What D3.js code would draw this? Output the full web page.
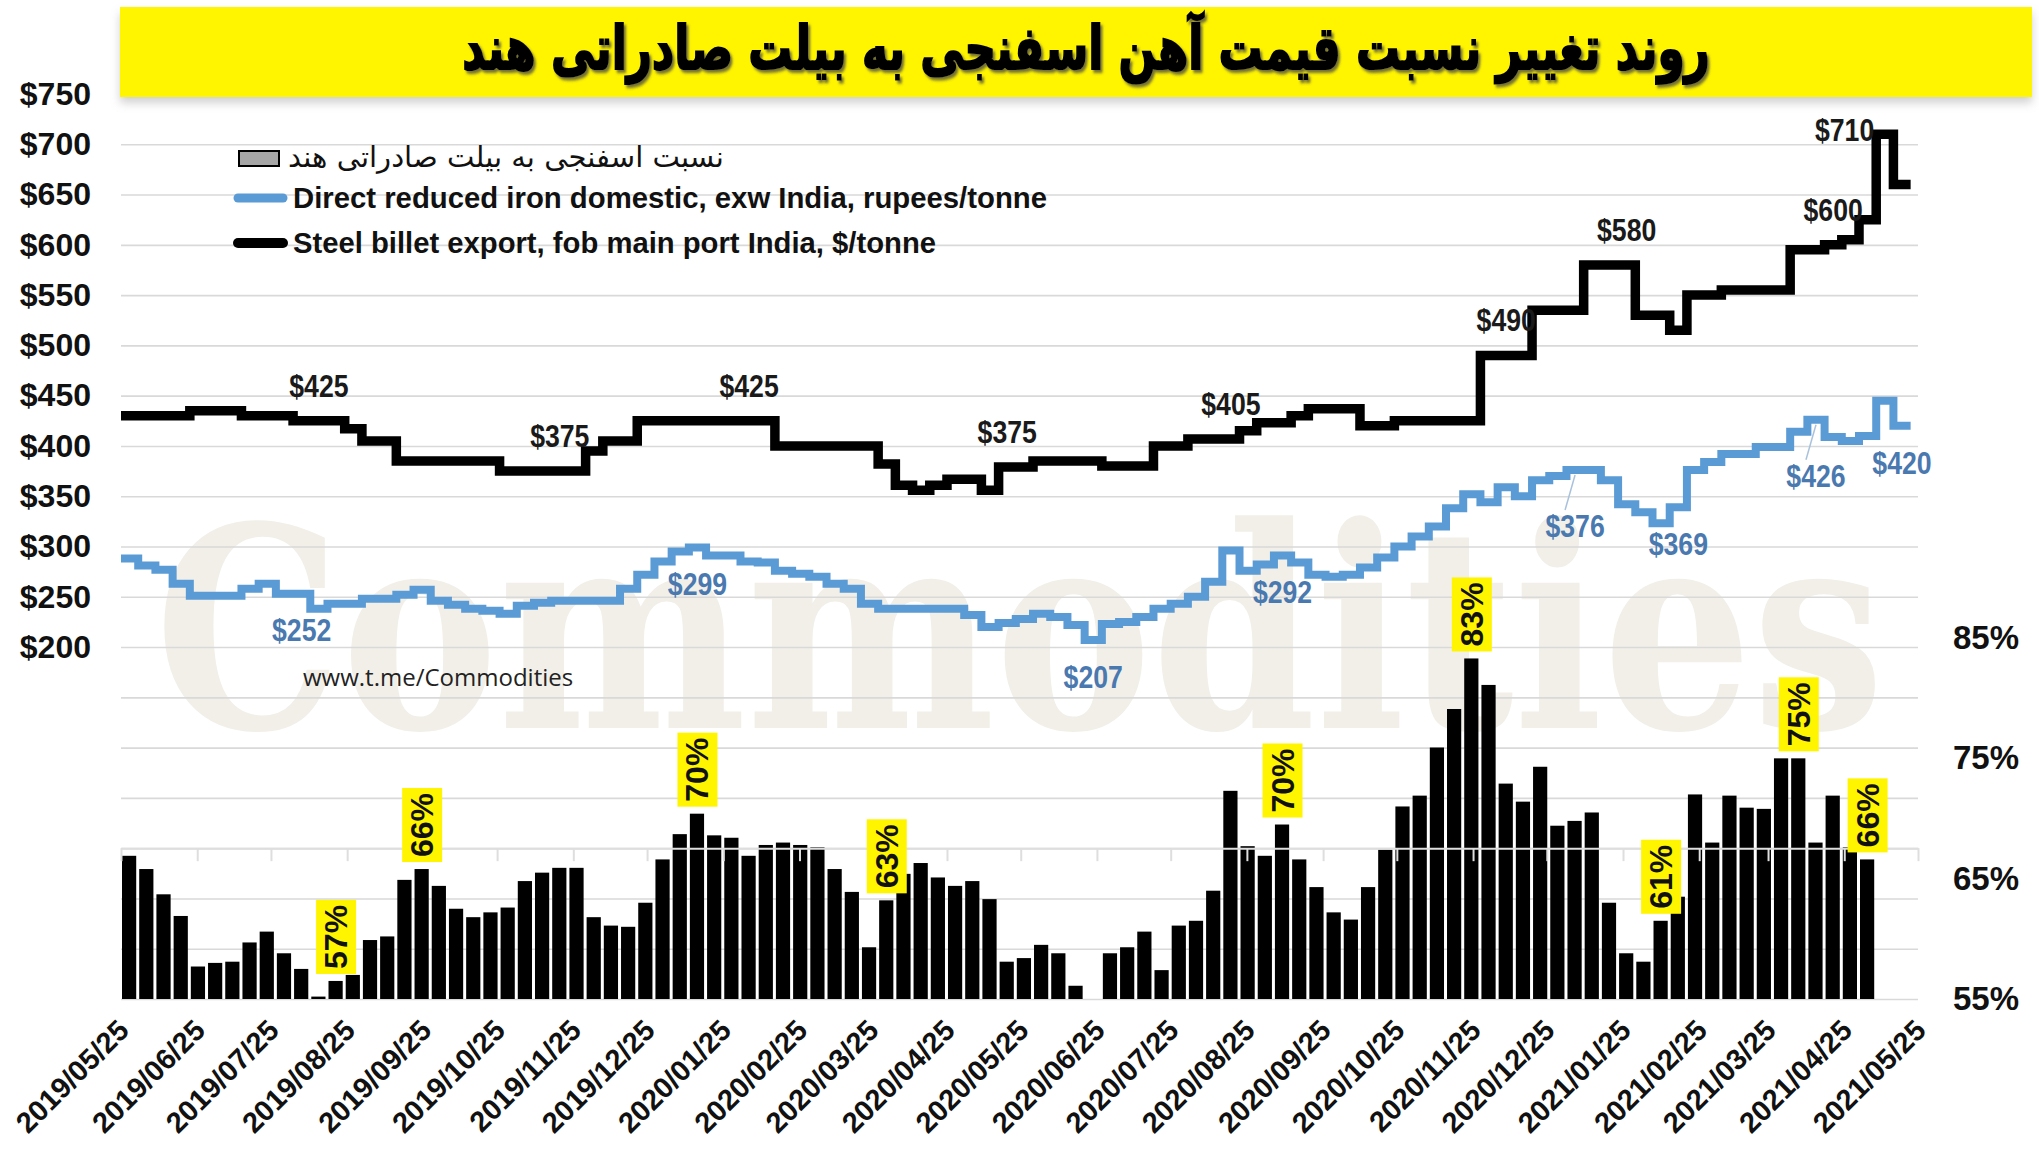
<!DOCTYPE html>
<html>
<head>
<meta charset="utf-8">
<script src="https://cdn.jsdelivr.net/npm/d3@7/dist/d3.min.js"></script>
<style>
html,body{margin:0;padding:0;background:#fff;}
svg{display:block;}
</style>
</head>
<body>
<svg id="chart" width="2039" height="1152"></svg>
<script>
// ------------------------- data -------------------------
const titleText = "روند تغییر نسبت قیمت آهن اسفنجی به بیلت صادراتی هند";
const ratioName = "نسبت اسفنجی به بیلت صادراتی هند";
const driName = "Direct reduced iron domestic, exw India, rupees/tonne";
const billetName = "Steel billet export, fob main port India, $/tonne";
const sourceText = "www.t.me/Commodities";
const watermarkText = "Commodities";

const monthLabels = ["2019/05/25","2019/06/25","2019/07/25","2019/08/25","2019/09/25","2019/10/25","2019/11/25","2019/12/25",
  "2020/01/25","2020/02/25","2020/03/25","2020/04/25","2020/05/25","2020/06/25","2020/07/25","2020/08/25","2020/09/25",
  "2020/10/25","2020/11/25","2020/12/25","2021/01/25","2021/02/25","2021/03/25","2021/04/25","2021/05/25"];
const firstWeek = "2019/05/25";
const priceTicks = [200,250,300,350,400,450,500,550,600,650,700,750];
const priceGrid = [-150,-100,-50,0,50,100,150,200,250,300,350,400,450,500,550,600,650,700,750];
const ratioTicks = [55,65,75,85];

// Steel billet export, $/t (weekly)
const billet = [430,430,430,430,435,435,435,430,430,430,425,425,425,417,405,405,
  385,385,385,385,385,385,375,375,375,375,375,395,405,405,
  425,425,425,425,425,425,425,425,400,400,400,400,400,400,
  382,361,356,361,367,367,356,379,379,385,385,385,385,380,380,380,
  400,400,407,407,407,415,423,423,430,437,437,437,420,420,
  425,425,425,425,425,490,490,490,535,535,535,580,580,580,
  530,530,515,550,550,555,555,555,555,595,595,600,605,625,710,660,660];

// Direct reduced iron domestic (weekly, $ equivalent)
const dri = [288,281,277,263,251,251,251,258,263,253,253,238,243,243,248,248,
  252,257,246,242,238,236,233,241,244,246,246,246,246,258,
  272,285,295,299,291,291,285,284,276,273,270,263,258,243,
  238,238,238,238,238,232,220,224,228,233,230,222,207,223,225,230,
  238,243,250,265,296,276,282,291,284,272,270,272,279,289,
  300,310,320,338,352,344,359,350,366,370,376,376,366,342,
  334,323,339,376,384,392,392,399,399,414,426,409,405,410,445,420,420];

// Ratio DRI / billet, % (weekly bars)
const ratio = [66.9,65.8,63.7,61.9,57.7,58.0,58.1,59.7,60.6,58.8,57.5,55.2,56.5,57.0,59.9,60.2,
  64.9,65.8,64.4,62.5,61.8,62.2,62.6,64.8,65.5,65.9,65.9,61.8,61.1,61.0,
  63.0,66.6,68.7,70.4,68.6,68.4,66.9,67.8,68.0,67.8,67.6,65.8,63.9,59.3,
  63.2,65.4,66.3,65.1,64.4,64.8,63.3,58.1,58.4,59.5,58.8,56.1,55.0,58.8,59.3,60.6,
  57.4,61.1,61.5,64.0,72.3,67.7,66.9,69.5,66.6,64.3,62.2,61.6,64.3,67.4,
  71.0,71.9,75.9,79.1,83.3,81.1,72.9,71.4,74.3,69.4,69.8,70.5,63.0,58.8,
  58.1,61.5,63.5,72.0,68.0,71.9,70.9,70.8,75.0,75.0,68.0,71.9,67.6,66.6];

const billetNotes = [[11,"$425","above"],[25,"$375","above"],[36,"$425","above"],[51,"$375","above"],
  [64,"$405","above"],[80,"$490","above"],[87,"$580","above"],[99,"$600","above"],[102,"$710","left"]];
const driNotes = [[10,"$252","below"],[33,"$299","below"],[56,"$207","below"],[67,"$292","below"],
  [84,"$376","far"],[90,"$369","below"],[98,"$426","far"],[103,"$420","below"]];
const ratioNotes = [[12,"57%"],[17,"66%"],[33,"70%"],[44,"63%"],[67,"70%"],[78,"83%"],[89,"61%"],[97,"75%"],[101,"66%"]];

// ------------------------- layout -------------------------
const FONT = "'Liberation Sans', Arial, Helvetica, sans-serif";
const FA = "'DejaVu Sans', 'Noto Sans', sans-serif";
const plot = {left:121, right:1918, top:94, bottom:999};
const C = {blue:"#5b9bd5", blueText:"#4a79b0", black:"#000", grid:"#d9d9d9", yellow:"#fff500"};

const parse = d3.timeParse("%Y/%m/%d");
const monthDates = monthLabels.map(parse);
const weeks = d3.range(billet.length + 1).map(i => d3.timeDay.offset(parse(firstWeek), 7 * i));

const x = d3.scaleTime().domain([monthDates[0], monthDates[monthDates.length - 1]]).range([plot.left, plot.right]);
const yP = d3.scaleLinear().domain([-150, 750]).range([plot.bottom, plot.top]);
const yR = d3.scaleLinear().domain([55, 85]).range([plot.bottom, 638]);

const svg = d3.select("#chart");
const defs = svg.append("defs");
const f1 = defs.append("filter").attr("id","tshadow").attr("x","-5%").attr("y","-30%").attr("width","115%").attr("height","170%");
f1.append("feDropShadow").attr("dx",3).attr("dy",3).attr("stdDeviation",1.6).attr("flood-color","#444").attr("flood-opacity",0.75);
const f2 = defs.append("filter").attr("id","bshadow").attr("x","-5%").attr("y","-20%").attr("width","110%").attr("height","160%");
f2.append("feDropShadow").attr("dx",0).attr("dy",6).attr("stdDeviation",5).attr("flood-color","#999").attr("flood-opacity",0.45);

svg.append("rect").attr("width",2039).attr("height",1152).attr("fill","#fff");

// faint watermark
svg.append("text").text(watermarkText)
  .attr("x", (plot.left + plot.right) / 2).attr("y", 728)
  .attr("text-anchor","middle")
  .attr("font-family","'DejaVu Serif', serif").attr("font-weight","bold").attr("font-size",280)
  .attr("fill","#f1efe8")
  .attr("textLength", 1730).attr("lengthAdjust","spacingAndGlyphs");

// gridlines
const gGrid = svg.append("g").attr("transform",`translate(${plot.left},0)`)
  .call(d3.axisLeft(yP).tickValues(priceGrid).tickSize(-(plot.right - plot.left)).tickFormat(""));
gGrid.select(".domain").remove();
gGrid.selectAll("line").attr("stroke", C.grid).attr("stroke-width", 1.6);

// bars
svg.append("g").selectAll("rect").data(ratio).join("rect")
  .attr("x", (d,i) => x(weeks[i]) + 1)
  .attr("width", (d,i) => x(weeks[i+1]) - x(weeks[i]) - 3)
  .attr("y", d => yR(d))
  .attr("height", d => yR(55) - yR(d))
  .attr("fill", "#000");

// category axis line at $0 with monthly ticks (drawn over bars, light)
const gZero = svg.append("g").attr("transform",`translate(0,${yP(0)})`)
  .call(d3.axisBottom(x).tickValues(monthDates).tickSize(13).tickSizeOuter(0).tickFormat(""));
gZero.selectAll("line, path").attr("stroke","#dedede").attr("stroke-width",2);

// lines
const lineGen = d3.line().x(d => x(d.date)).y(d => yP(d.v)).curve(d3.curveStepAfter);
const driData = dri.map((v,i) => ({date:weeks[i], v}));
const billetData = billet.map((v,i) => ({date:weeks[i], v}));
svg.append("path").datum(driData).attr("d", lineGen).attr("fill","none")
  .attr("stroke", C.blue).attr("stroke-width", 8).attr("stroke-linejoin","miter");
svg.append("path").datum(billetData).attr("d", lineGen).attr("fill","none")
  .attr("stroke", C.black).attr("stroke-width", 9.5).attr("stroke-linejoin","miter");

// value labels on lines
function mid(i){ return (x(weeks[i]) + x(weeks[i+1])) / 2; }
function addNotes(notes, series, color){
  const g = svg.append("g");
  notes.forEach(([i, t, pos]) => {
    const yv = yP(series[i]);
    let px = mid(i), py, anchor = "middle";
    if (pos === "above") py = yv - 35;
    else if (pos === "below") py = yv + 37;
    else if (pos === "far") {
      py = yv + 56;
      g.append("line").attr("x1", px).attr("y1", yv + 5).attr("x2", px - 10).attr("y2", py - 16)
        .attr("stroke","#a9c2dc").attr("stroke-width",1.5);
    }
    else { px = x(weeks[i]) - 2; py = yv - 4; anchor = "end"; }
    g.append("text").text(t)
      .attr("transform", `translate(${px},${py}) scale(0.86,1)`)
      .attr("text-anchor", anchor).attr("dominant-baseline","central")
      .attr("font-family", FONT).attr("font-weight","bold").attr("font-size", 31)
      .attr("fill", color);
  });
}
addNotes(billetNotes, billet, "#1a1a1a");
addNotes(driNotes, dri, C.blueText);

// ratio labels (rotated, yellow boxes)
const gR = svg.append("g");
ratioNotes.forEach(([i, t]) => {
  const g = gR.append("g").attr("transform", `translate(${mid(i)},${yR(ratio[i]) - 7}) rotate(-90)`);
  const rect = g.append("rect").attr("fill", C.yellow);
  const tx = g.append("text").text(t).attr("x", 5).attr("y", 0)
    .attr("dominant-baseline","central")
    .attr("font-family", FONT).attr("font-weight","bold").attr("font-size", 32).attr("fill","#111");
  const b = tx.node().getBBox();
  rect.attr("x", 0).attr("y", -20).attr("width", b.width + 10).attr("height", 40);
});

// title bar
svg.append("rect").attr("x", 120).attr("y", 7).attr("width", 1912).attr("height", 90)
  .attr("fill", C.yellow).attr("filter","url(#bshadow)");
const title = svg.append("text").text(titleText)
  .attr("x", 0).attr("y", 0).attr("text-anchor","middle").attr("dominant-baseline","central")
  .attr("font-family", FA).attr("font-weight","bold").attr("font-size", 60)
  .attr("fill","#000").attr("stroke","#000").attr("stroke-width",2)
  .attr("filter","url(#tshadow)");
{
  const w = title.node().getComputedTextLength();
  title.attr("transform", `translate(1086,48) scale(${1248 / w},1)`);
}

// left axis
const gL = svg.append("g").attr("transform", `translate(91,0)`)
  .call(d3.axisLeft(yP).tickValues(priceTicks).tickFormat(d => "$" + d).tickSize(0).tickPadding(0));
gL.select(".domain").remove();
gL.selectAll("text").attr("font-family", FONT).attr("font-weight","bold").attr("font-size", 32).attr("fill","#111");

// right axis
const gRt = svg.append("g").attr("transform", `translate(1953,0)`)
  .call(d3.axisRight(yR).tickValues(ratioTicks).tickFormat(d => d + "%").tickSize(0).tickPadding(0));
gRt.select(".domain").remove();
gRt.selectAll("text").attr("font-family", FONT).attr("font-weight","bold").attr("font-size", 33).attr("fill","#111");

// bottom date labels
const gB = svg.append("g").attr("transform", `translate(0,${plot.bottom + 26})`)
  .call(d3.axisBottom(x).tickValues(monthDates).tickFormat((d,i) => monthLabels[i]).tickSize(0).tickPadding(0));
gB.select(".domain").remove();
gB.selectAll("text").attr("y", 0).attr("dy", "0.35em").attr("x", 0)
  .attr("transform","translate(2,0) rotate(-45)").attr("text-anchor","end")
  .attr("font-family", FONT).attr("font-weight","bold").attr("font-size", 29).attr("fill","#111");

// source text
svg.append("text").text(sourceText).attr("x", 303).attr("y", 676).attr("dominant-baseline","central")
  .attr("font-family","'Open Sans', sans-serif").attr("font-size", 24).attr("fill","#222");

// legend
const lg = svg.append("g");
lg.append("rect").attr("x", 239).attr("y", 151).attr("width", 40).attr("height", 15)
  .attr("fill","#a6a6a6").attr("stroke","#000").attr("stroke-width", 2);
const l1 = lg.append("text").text(ratioName).attr("x", 0).attr("y", 0).attr("dominant-baseline","central")
  .attr("text-anchor","start")
  .attr("font-family", FA).attr("font-size", 29).attr("fill","#111");
{
  const w = l1.node().getComputedTextLength();
  l1.attr("transform", `translate(288,157) scale(${436 / w},1)`);
}
lg.append("line").attr("x1", 238).attr("x2", 283).attr("y1", 198).attr("y2", 198)
  .attr("stroke", C.blue).attr("stroke-width", 9).attr("stroke-linecap","round");
lg.append("text").text(driName).attr("x", 293).attr("y", 198).attr("dominant-baseline","central")
  .attr("font-family", FONT).attr("font-weight","bold").attr("font-size", 29).attr("fill","#111")
  .attr("textLength", 754).attr("lengthAdjust","spacingAndGlyphs");
lg.append("line").attr("x1", 238).attr("x2", 283).attr("y1", 243).attr("y2", 243)
  .attr("stroke", "#000").attr("stroke-width", 10).attr("stroke-linecap","round");
lg.append("text").text(billetName).attr("x", 293).attr("y", 243).attr("dominant-baseline","central")
  .attr("font-family", FONT).attr("font-weight","bold").attr("font-size", 29).attr("fill","#111")
  .attr("textLength", 643).attr("lengthAdjust","spacingAndGlyphs");
</script>
</body>
</html>
